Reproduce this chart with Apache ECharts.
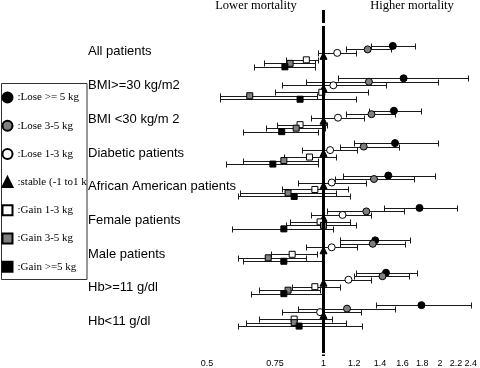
<!DOCTYPE html>
<html><head><meta charset="utf-8">
<script src="https://cdn.jsdelivr.net/npm/echarts@6/dist/echarts.min.js"></script>
<style>html,body{margin:0;padding:0;background:#fff}#c{width:480px;height:368px}</style>
</head><body><div id="c"></div>
<script>
// ---- data (hazard ratios) ----
const groups = ['All patients','BMI>=30 kg/m2','BMI <30 kg/m 2','Diabetic patients','African American patients','Female patients','Male patients','Hb>=11 g/dl','Hb<11 g/dl'];
const levels = ['Lose >= 5 kg','Lose 3-5 kg','Lose 1-3 kg','stable (-1 to1 kg)','Gain 1-3 kg','Gain 3-5 kg','Gain >=5 kg'];
const xTicks = [0.5, 0.75, 1, 1.2, 1.4, 1.6, 1.8, 2, 2.2, 2.4];

const loseGE5Est = [1.51, 1.61, 1.52, 1.53, 1.47, 1.77, 1.36, 1.45, 1.79];
const loseGE5Lo  = [1.33, 1.09, 1.31, 1.20, 1.12, 1.43, 1.10, 1.21, 1.37];
const loseGE5Hi  = [1.72, 2.36, 1.79, 1.97, 1.94, 2.21, 1.67, 1.74, 2.40];

const lose35Est = [1.30, 1.31, 1.33, 1.27, 1.35, 1.29, 1.34, 1.42, 1.15];
const lose35Lo  = [1.14, 0.90, 1.14, 1.10, 1.07, 1.02, 1.10, 1.20, 0.86];
const lose35Hi  = [1.49, 1.97, 1.53, 1.57, 1.71, 1.61, 1.62, 1.66, 1.53];

const lose13Est = [1.085, 1.06, 1.09, 1.04, 1.05, 1.12, 1.05, 1.16, 0.98];
const lose13Lo  = [0.965, 0.78, 0.93, 0.88, 0.86, 0.93, 0.90, 1.00, 0.78];
const lose13Hi  = [1.21, 1.45, 1.27, 1.22, 1.29, 1.33, 1.22, 1.33, 1.25];

const stableEst = [1, 1, 1, 1, 1, 1, 1, 1, 1];

const gain13Est = [0.903, 0.99, 0.87, 0.92, 0.95, 0.98, 0.83, 0.95, 0.84];
const gain13Lo  = [0.80, 0.75, 0.76, 0.79, 0.78, 0.82, 0.73, 0.83, 0.68];
const gain13Hi  = [0.97, 1.30, 1.02, 1.08, 1.16, 1.17, 0.96, 1.10, 1.05];

const gain35Est = [0.82, 0.645, 0.85, 0.79, 0.81, 1.00, 0.72, 0.81, 0.84];
const gain35Lo  = [0.70, 0.54, 0.71, 0.62, 0.61, 0.80, 0.60, 0.68, 0.63];
const gain35Hi  = [0.95, 0.96, 1.01, 0.97, 1.08, 1.21, 0.90, 0.98, 1.14];

const gainGE5Est = [0.795, 0.87, 0.78, 0.74, 0.84, 0.79, 0.79, 0.79, 0.865];
const gainGE5Lo  = [0.66, 0.54, 0.62, 0.56, 0.60, 0.58, 0.62, 0.65, 0.60];
const gainGE5Hi  = [0.95, 1.21, 0.97, 0.97, 1.17, 1.06, 1.00, 0.99, 1.26];

// ---- layout / style ----
const estAll = [loseGE5Est, lose35Est, lose13Est, stableEst, gain13Est, gain35Est, gainGE5Est];
const loAll  = [loseGE5Lo, lose35Lo, lose13Lo, null, gain13Lo, gain35Lo, gainGE5Lo];
const hiAll  = [loseGE5Hi, lose35Hi, lose13Hi, null, gain13Hi, gain35Hi, gainGE5Hi];
const symbols = ['circle','circle','circle','triangle','rect','rect','rect'];
const fills   = ['#000','#808080','#fff','#000','#fff','#808080','#000'];
const sizes   = [7, 7, 7, 7, 6, 6, 6];
const GROUP_STEP = 32.5, GROUP_START = 36;
const ROW_OFF = [0, 3.5, 7, 10, 14, 17.5, 21];
const LABEL_START = 42, LABEL_STEP = 33.8;
const rowY = (g, r) => GROUP_START + GROUP_STEP * g + ROW_OFF[r];
const L = Math.log;

const series = [];
// error bars
const barData = [];
levels.forEach((lv, r) => {
  if (!loAll[r]) return;
  groups.forEach((gname, g) => barData.push([L(loAll[r][g]), L(hiAll[r][g]), rowY(g, r)]));
});
series.push({
  type: 'custom', silent: true, z: 2,
  data: barData,
  encode: { x: [0, 1], y: 2 },
  renderItem: (params, api) => {
    const a = api.coord([api.value(0), api.value(2)]);
    const b = api.coord([api.value(1), api.value(2)]);
    const y = Math.round(a[1]) + 0.5;
    const x1 = Math.round(a[0]) + 0.5, x2 = Math.round(b[0]) + 0.5;
    const st = { stroke: '#1a1a1a', lineWidth: 1 };
    return { type: 'group', children: [
      { type: 'line', shape: { x1: x1, y1: y, x2: x2, y2: y }, style: st },
      { type: 'line', shape: { x1: x1, y1: y - 3, x2: x1, y2: y + 3 }, style: st },
      { type: 'line', shape: { x1: x2, y1: y - 3, x2: x2, y2: y + 3 }, style: st }
    ]};
  },
  markLine: {
    silent: true, symbol: 'none', label: { show: false },
    lineStyle: { color: '#000', width: 3, type: 'solid' },
    data: [
      [{ coord: [0, 0] }, { coord: [0, 13] }],
      [{ coord: [0, 16] }, { coord: [0, 344] }],
      [{ coord: [0, 345.5] }, { coord: [0, 347] }]
    ]
  }
});
// markers
levels.forEach((lv, r) => {
  series.push({
    name: lv, type: 'scatter', z: 3,
    symbol: symbols[r], symbolSize: sizes[r],
    itemStyle: { color: fills[r], borderColor: '#000', borderWidth: 1, opacity: 1 },
    data: groups.map((gname, g) => [L(estAll[r][g]), rowY(g, r)])
  });
});

const chart = echarts.init(document.getElementById('c'), null, { renderer: 'canvas' });
chart.setOption({
  animation: false,
  backgroundColor: '#fff',
  grid: { left: 199, top: 10, width: 277, height: 347, containLabel: false },
  xAxis: {
    type: 'value', min: L(0.477), max: L(2.43),
    axisLine: { show: false }, axisTick: { show: false }, splitLine: { show: false },
    axisLabel: {
      customValues: xTicks.map(t => L(t)),
      formatter: v => { const t = xTicks.find(t => Math.abs(L(t) - v) < 1e-6); return t === undefined ? '' : String(t); },
      fontFamily: 'Liberation Sans', fontSize: 9, color: '#000', margin: 3
    }
  },
  yAxis: {
    type: 'value', inverse: true, min: 0, max: 347,
    axisLine: { show: false }, axisTick: { show: false }, splitLine: { show: false },
    axisLabel: {
      customValues: groups.map((gname, g) => LABEL_START + LABEL_STEP * g),
      formatter: v => groups[Math.round((v - LABEL_START) / LABEL_STEP)] || '',
      align: 'left', margin: 111,
      fontFamily: 'Liberation Sans', fontSize: 13, color: '#000'
    }
  },
  legend: {
    orient: 'vertical', left: 1.5, top: 90.5, padding: 0,
    itemWidth: 10, itemHeight: 10, itemGap: 14.2, selectedMode: false,
    data: levels,
    formatter: n => ':' + n,
    textStyle: { fontFamily: 'Liberation Serif', fontSize: 11, color: '#000', lineHeight: 14,
                 width: 72, overflow: 'truncate', ellipsis: '' }
  },
  graphic: [
    { type: 'rect', shape: { x: 1.5, y: 83.5, width: 85.5, height: 196 },
      style: { fill: 'none', stroke: '#333', lineWidth: 1 }, z: -1 },
    { type: 'text', x: 256, y: 6,
      style: { text: 'Lower mortality', font: '12.5px "Liberation Serif"', fill: '#000', textAlign: 'center', textVerticalAlign: 'middle' } },
    { type: 'text', x: 412, y: 6,
      style: { text: 'Higher mortality', font: '12.5px "Liberation Serif"', fill: '#000', textAlign: 'center', textVerticalAlign: 'middle' } }
  ],
  series: series
});
</script>
</body></html>
